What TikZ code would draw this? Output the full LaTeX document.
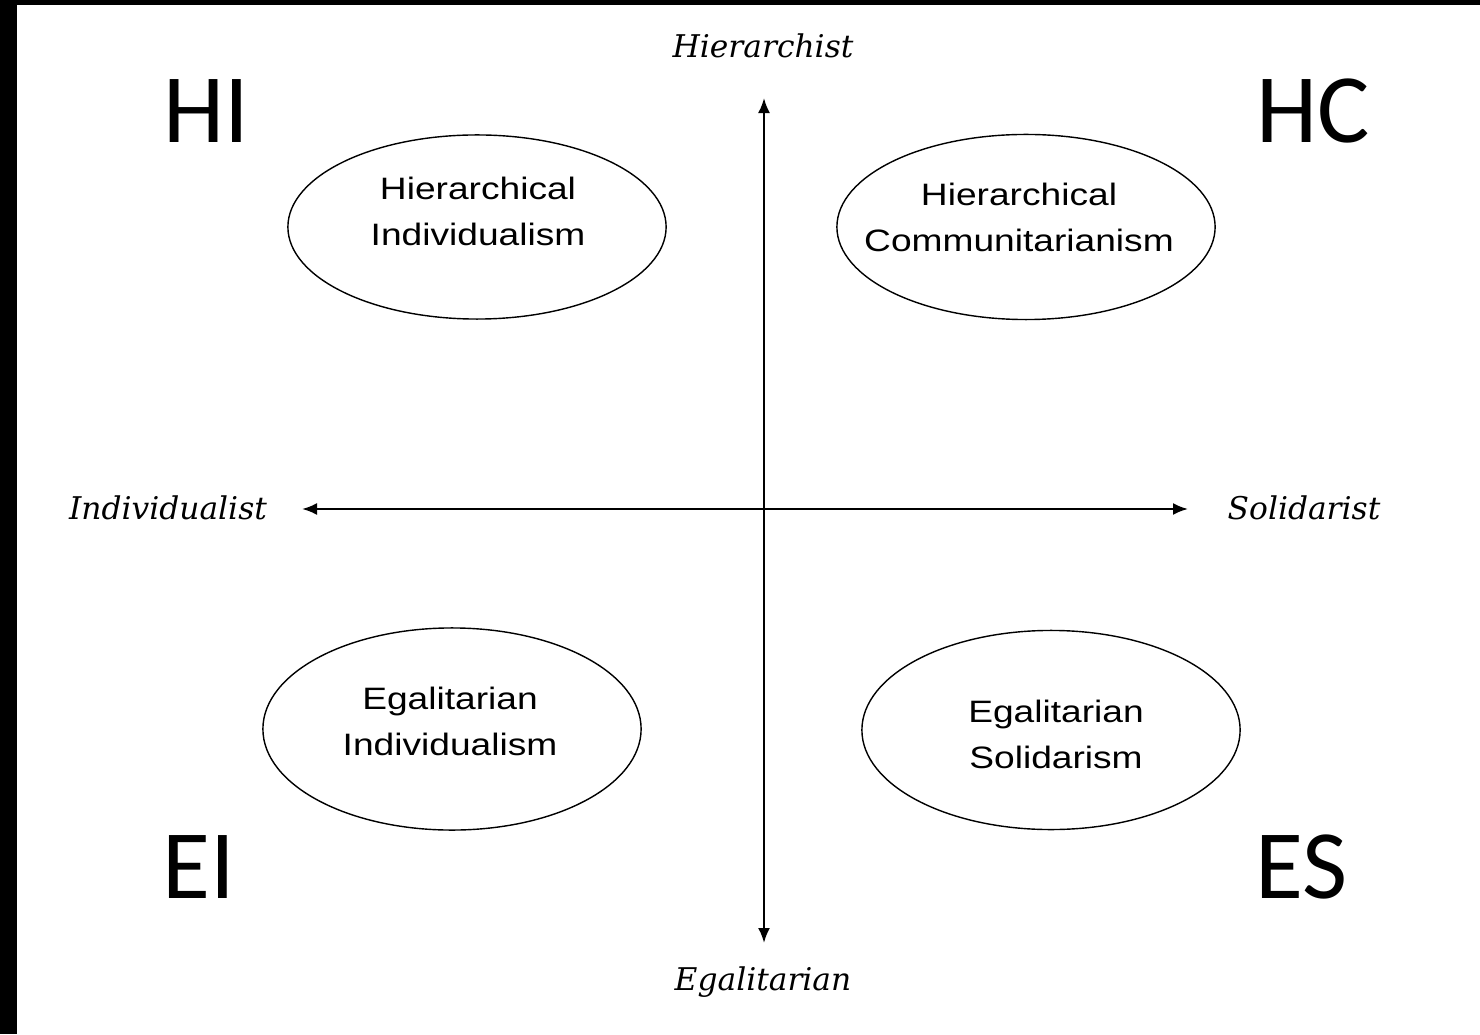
\documentclass[tikz,border=0pt]{standalone}
\usepackage{fontspec}
\setmainfont{Liberation Sans}
\newfontfamily\ovalfont[FakeStretch=1.2]{Liberation Sans}
\newfontfamily\axisfont{DejaVu Serif}
\newfontfamily\cornerfont{Carlito}
\usetikzlibrary{shapes,arrows.meta}

\begin{document}
\begin{tikzpicture}[x=0.01cm,y=-0.01cm,
    oval/.style={draw, ellipse, line width=0.4pt, inner sep=0pt,
      minimum width=3.78cm},
    ovaltext/.style={align=center, font=\ovalfont\fontsize{8.8}{13.1}\selectfont},
    axislabel/.style={font=\axisfont\itshape\fontsize{8.9}{10}\selectfont},
    corner/.style={anchor=base, font=\cornerfont\fontsize{27.9}{30}\selectfont},
    axis/.style={line width=0.65pt,
      {Latex[length=1.5mm,width=1.2mm]}-{Latex[length=1.5mm,width=1.2mm]}}]
      \useasboundingbox (0,0) rectangle (1480,1034);
      \fill [white] (0,0) rectangle (1480,1034);
      \fill [black] (0,0) rectangle (17,1034);
      \fill [black] (0,0) rectangle (1480,5);
      % axes
      \coordinate (top) at (764,98);
      \coordinate (bottom) at (764,943);
      \coordinate (left) at (302,509);
      \coordinate (right) at (1188,509);
      \draw [axis] (bottom) -- (top);
      \draw [axis] (left) -- (right);
      \node [axislabel] (hier) at (763,46) {Hierarchist};
      \node [axislabel] (egal) at (763,982) {Egalitarian};
      \node [axislabel] (indiv) at (168,508) {Individualist};
      \node [axislabel] (solid) at (1304,508) {Solidarist};
      % the four types
      \node [oval, minimum height=1.84cm] (hi) at (477,227) {};
      \node [oval, minimum height=1.85cm] (hc) at (1026,227) {};
      \node [oval, minimum height=2.02cm] (ei) at (452,729) {};
      \node [oval, minimum height=1.99cm] (es) at (1051,730) {};
      \node [ovaltext] (hitext) at (478,211) {Hierarchical\\Individualism};
      \node [ovaltext] (hctext) at (1019,217) {Hierarchical\\Communitarianism};
      \node [ovaltext] (eitext) at (450,721) {Egalitarian\\Individualism};
      \node [ovaltext] (estext) at (1056,734) {Egalitarian\\Solidarism};
      \node [corner] (hilabel) at (206,143) {HI};
      \node [corner] (hclabel) at (1313,143) {HC};
      \node [corner] (eilabel) at (199,898) {EI};
      \node [corner] (eslabel) at (1301,898) {ES};
    \end{tikzpicture}
\end{document}
